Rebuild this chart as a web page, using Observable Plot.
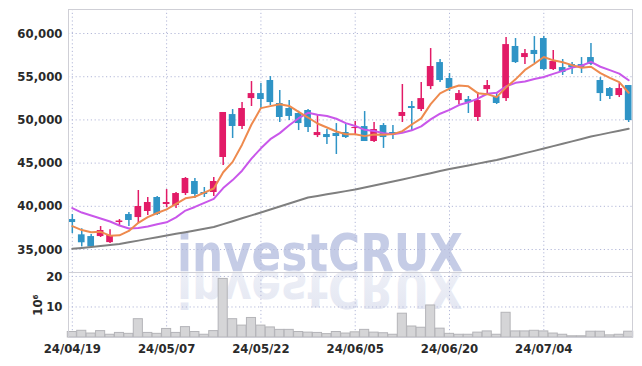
<!DOCTYPE html>
<html><head><meta charset="utf-8">
<script src="https://cdn.jsdelivr.net/npm/d3@7"></script>
<script src="https://cdn.jsdelivr.net/npm/@observablehq/plot@0.6"></script>
<style>
body{margin:0;background:#fff;}
#wrap{position:relative;width:642px;height:366px;overflow:hidden;}
#wrap svg{position:absolute;left:0;}
</style></head><body><div id="wrap"></div>
<script>
const dates = ["2024-04-19","2024-04-22","2024-04-23","2024-04-24","2024-04-25","2024-04-26","2024-04-29","2024-04-30","2024-05-02","2024-05-03",
"2024-05-07","2024-05-08","2024-05-09","2024-05-10","2024-05-13","2024-05-14","2024-05-16","2024-05-17","2024-05-20","2024-05-21",
"2024-05-22","2024-05-23","2024-05-24","2024-05-27","2024-05-28","2024-05-29","2024-05-30","2024-05-31","2024-06-03","2024-06-04",
"2024-06-05","2024-06-07","2024-06-10","2024-06-11","2024-06-12","2024-06-13","2024-06-14","2024-06-17","2024-06-18","2024-06-19",
"2024-06-20","2024-06-21","2024-06-24","2024-06-25","2024-06-26","2024-06-27","2024-06-28","2024-07-01","2024-07-02","2024-07-03",
"2024-07-04","2024-07-05","2024-07-08","2024-07-09","2024-07-10","2024-07-11","2024-07-12","2024-07-15","2024-07-16","2024-07-17"];
const open = [38470,36700,36500,36500,35800,38125,39050,38700,39400,41020,
40210,40090,41480,42870,41600,41600,45650,50620,49240,52470,
53050,54560,51900,51320,50740,51090,48190,48310,48430,48540,
49000,49230,47500,49350,48540,50400,51550,51200,53860,56640,
54790,52240,52360,50280,53510,52710,52470,58500,57220,58040,
59420,55830,56060,56410,56410,57220,54560,53630,52820,53980];
const high = [39050,37400,36740,37660,37300,38470,39280,41830,41020,41130,
41940,41600,43330,43220,42180,43330,50860,51200,52010,54440,
54210,55020,53400,52250,51000,51200,50510,48890,49580,49470,
49820,50970,49700,49580,49350,54100,52130,54330,58260,56990,
55370,53400,52710,53170,54560,53050,59540,59420,58150,59650,
59650,58040,56990,56640,57220,58850,54900,53750,54210,53980];
const low = [36850,35300,35200,36390,35700,37660,37660,38000,38940,38940,
39860,39750,41250,40900,41020,41130,44720,47850,48890,51550,
51320,51670,49700,49930,48770,48540,47960,47150,46000,47850,
48190,47500,47400,46700,47730,49700,48770,50970,53510,54330,
53290,51780,50740,49810,53050,51780,52130,56530,56410,56530,
55720,55720,55140,55260,55370,56300,52130,52360,52590,49700];
const close = [38125,35780,35300,37200,36620,38300,38360,39980,40440,39050,
40440,41480,43220,41370,41370,42870,50860,49240,51320,53050,
52360,52010,50280,50400,49580,49120,48540,47960,48080,47960,
49120,47500,48890,47960,48310,50860,51320,52470,56180,54560,
53630,53050,52010,52240,53980,51900,58720,56640,57680,57570,
55830,56760,55490,56060,56060,56410,53050,52710,53630,49930];
const volume = [1.8,2.2,1.3,2.1,0.9,1.5,1.2,6.0,1.5,1.2,
2.8,1.5,3.4,1.8,0.9,2.1,19.2,6.0,3.9,6.4,
3.9,3.3,2.5,2.5,1.8,1.6,1.5,1.1,1.8,1.3,
1.7,2.5,1.6,1.4,0.9,7.8,3.6,3.2,10.5,2.9,
1.2,0.9,0.9,1.6,2.0,0.9,8.1,2.0,2.0,2.2,
2.0,1.3,0.9,0.4,0.4,1.9,1.9,0.7,0.9,1.9];
const ma5 = [37700,37250,37000,37050,36605,36640,37156,38092,38740,39226,
39654,40278,40926,41112,41576,42062,43938,45142,47132,49468,
51366,51596,51804,51620,50926,50278,49584,49120,48656,48332,
48332,48124,48310,48286,48356,48704,49468,50184,51828,53078,
53632,53978,53886,53098,52982,52636,53770,54696,55784,56502,
57288,56896,56666,56342,56040,56156,55414,54858,54372,53146];
const ma10 = [39800,39280,38940,38590,38240,37780,37430,37490,37660,37916,
38147,38717,39509,39926,40401,40858,42108,43034,44122,45522,
46714,47767,48473,49376,50197,50822,50590,50462,50138,49629,
49305,48854,48715,48471,48344,48518,48796,49247,50057,50717,
51168,51723,52035,52463,53030,53134,53874,54291,54441,54742,
54962,55333,55681,56063,56271,56722,56155,55762,55357,54593];
const maLong = [35080,35180,35290,35400,35510,35640,35830,36030,36230,36420,
36620,36820,37010,37210,37400,37600,37940,38270,38610,38950,
39280,39630,39980,40320,40670,41020,41200,41390,41570,41760,
41940,42180,42410,42640,42870,43100,43350,43590,43830,44080,
44320,44530,44730,44940,45150,45360,45620,45890,46160,46420,
46690,46970,47250,47520,47800,48080,48300,48530,48750,48970];
const priceTicks = [35000,40000,45000,50000,55000,60000];
const volTicks = [10,20];
const xTickDates = ["2024-04-19","2024-05-07","2024-05-22","2024-06-05","2024-06-20","2024-07-04"];

const RED = "#e21b67", BLUE = "#2f94c6";
const FONT = "DejaVu Sans Condensed";
const GRID = {stroke:"#b3b8d8", strokeOpacity:1, strokeDasharray:"1.2,2.6"};
const idx = d3.range(dates.length);
const xScale = {type:"band", domain:dates, paddingInner:0.29, paddingOuter:0.05, round:false, axis:null};
const fmtDate = d => d.slice(2).replace(/-/g,"/");
const LABEL = {fontSize:13, fontWeight:"bold", fill:"#2a2a2a"};

const price = Plot.plot({
  width:642, height:272, marginLeft:68, marginRight:10, marginTop:9, marginBottom:0,
  style:{background:"transparent", fontFamily:FONT, color:"#222", overflow:"visible"},
  x: xScale,
  y: {domain:[32340,62780], axis:null},
  color: {type:"identity"},
  marks:[
    Plot.gridY(priceTicks, GRID),
    Plot.gridX(xTickDates, GRID),
    Plot.axisY(priceTicks, {tickSize:0, tickPadding:6, tickFormat:d3.format(","), label:null, ...LABEL}),
    Plot.ruleX(idx, {x:i=>dates[i], y1:i=>low[i], y2:i=>high[i], stroke:i=>close[i]>=open[i]?RED:BLUE, strokeWidth:1.5}),
    Plot.barY(idx, {x:i=>dates[i], y1:i=>open[i], y2:i=>close[i], fill:i=>close[i]>=open[i]?RED:BLUE}),
    Plot.line(idx, {x:i=>dates[i], y:i=>maLong[i], stroke:"#7f7f7f", strokeWidth:2}),
    Plot.line(idx, {x:i=>dates[i], y:i=>ma10[i], stroke:"#c957ea", strokeWidth:2}),
    Plot.line(idx, {x:i=>dates[i], y:i=>ma5[i], stroke:"#ee8a4e", strokeWidth:2}),
    Plot.frame({stroke:"#cfcfd6"})
  ]
});

const vol = Plot.plot({
  width:642, height:94, marginLeft:68, marginRight:10, marginTop:0, marginBottom:29,
  style:{background:"transparent", fontFamily:FONT, color:"#222", overflow:"visible"},
  x: xScale,
  y: {domain:[0,21.3], axis:null},
  marks:[
    Plot.gridY(volTicks, GRID),
    Plot.gridX(xTickDates, GRID),
    Plot.axisY(volTicks, {tickSize:0, tickPadding:6, ...LABEL, label:"10⁶", labelAnchor:"center", labelArrow:"none", labelOffset:36}),
    Plot.axisX(xTickDates, {tickSize:0, tickPadding:6, tickFormat:fmtDate, label:null, ...LABEL}),
    Plot.barY(idx, {x:i=>dates[i], y:i=>volume[i], fill:"#d5d5d7", stroke:"#b4b4b8", strokeWidth:1, insetLeft:-1.2, insetRight:-1.2}),
    Plot.frame({stroke:"#cfcfd6"})
  ]
});

const wrap = document.getElementById("wrap");
const wm = d3.create("svg").attr("width",642).attr("height",366).style("top","0px");
const grad = wm.append("defs").append("linearGradient").attr("id","refl").attr("x1",0).attr("y1",0).attr("x2",0).attr("y2",1);
grad.append("stop").attr("offset","0%").attr("stop-color","#e2e5f1");
grad.append("stop").attr("offset","100%").attr("stop-color","#f0f2f8");
wm.append("text").attr("x",177).attr("y",271).attr("textLength",286).attr("lengthAdjust","spacingAndGlyphs")
  .attr("font-family",FONT).attr("font-weight","bold").attr("font-size",52).attr("fill","#c5cce6").text("investCRUX");
wm.append("text").attr("x",177).attr("y",271).attr("textLength",286).attr("lengthAdjust","spacingAndGlyphs")
  .attr("transform","translate(0,542) scale(1,-1)")
  .attr("font-family",FONT).attr("font-weight","bold").attr("font-size",52).attr("fill","url(#refl)").text("investCRUX");
wrap.appendChild(wm.node());
price.style.top = "0px";
vol.style.top = "272px";
wrap.appendChild(price);
wrap.appendChild(vol);
</script></body></html>
